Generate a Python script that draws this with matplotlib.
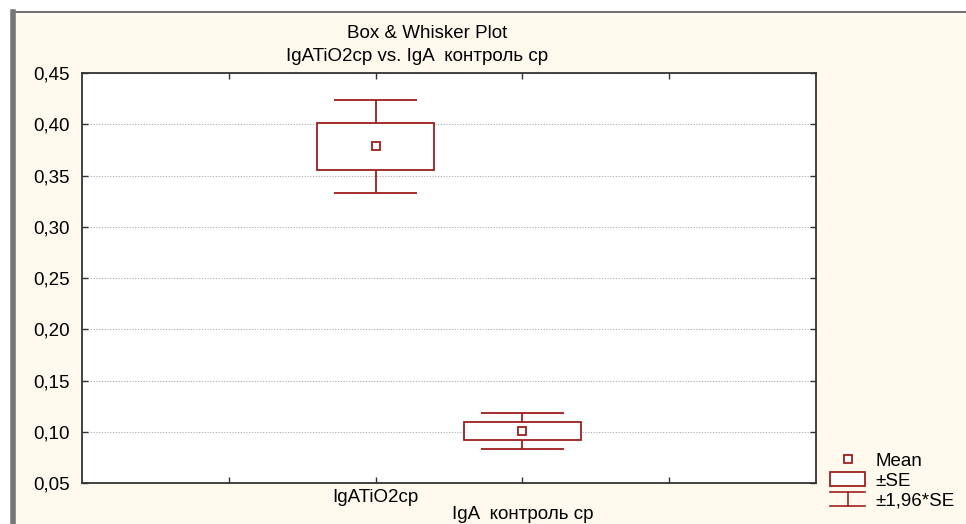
import matplotlib
matplotlib.use("Agg")
import matplotlib.pyplot as plt
import matplotlib.transforms as mtransforms
from matplotlib.patches import Rectangle, Patch
from matplotlib.lines import Line2D
from matplotlib.legend_handler import HandlerBase
from matplotlib.ticker import FuncFormatter

plt.rcParams['font.family'] = ['Liberation Sans', 'DejaVu Sans']
plt.rcParams['font.size'] = 13.5

# group means and standard errors
groups = ["IgATiO2cp", "IgA  контроль ср"]
means = [0.3785, 0.1007]
ses = [0.0232, 0.0088]
positions = [2, 3]

DARK_RED = "#9e1f1f"
CREAM = "#fff9ee"


class WhiskerHandler(HandlerBase):
    def create_artists(self, legend, orig_handle, xdescent, ydescent,
                       width, height, fontsize, trans):
        x0, x1 = -xdescent, -xdescent + width
        xm = (x0 + x1) / 2
        y0, y1 = -ydescent, -ydescent + height
        top = Line2D([x0, x1], [y1, y1], color=DARK_RED, lw=1.2, transform=trans)
        bot = Line2D([x0, x1], [y0, y0], color=DARK_RED, lw=1.2, transform=trans)
        mid = Line2D([xm, xm], [y0, y1], color=DARK_RED, lw=1.2, transform=trans)
        return [top, bot, mid]


fig = plt.figure(figsize=(9.66, 5.24), dpi=100, facecolor="white")

# cream panel with the dark frame on top and left
panel = Rectangle((0.012, -0.01), 1.0, 0.987, transform=fig.transFigure,
                  facecolor=CREAM, edgecolor="none", zorder=-10)
fig.patches.append(panel)
fig.add_artist(Line2D([0.012, 1.0], [0.977, 0.977], color="#555555", lw=1.2,
                      transform=fig.transFigure))
fig.add_artist(Line2D([0.013, 0.013], [0.0, 0.977], color="#777777", lw=4,
                      transform=fig.transFigure))

ax = fig.add_axes([0.0849, 0.0782, 0.7598, 0.7825])
ax.set_facecolor("white")

for x, m, se in zip(positions, means, ses):
    ax.bar(x, 2 * se, bottom=m - se, width=0.8, facecolor="white",
           edgecolor=DARK_RED, linewidth=1.3, zorder=3)
    ax.vlines(x, m + se, m + 1.96 * se, color=DARK_RED, lw=1.3, zorder=3)
    ax.vlines(x, m - 1.96 * se, m - se, color=DARK_RED, lw=1.3, zorder=3)
    ax.hlines([m + 1.96 * se, m - 1.96 * se], x - 0.285, x + 0.285,
              color=DARK_RED, lw=1.3, zorder=3)
    ax.plot(x, m, marker="s", ms=6, mfc="white", mec=DARK_RED, mew=1.3,
            linestyle="none", zorder=4)

ax.set_xlim(0, 5)
ax.set_ylim(0.05, 0.45)
ax.set_yticks([0.05, 0.10, 0.15, 0.20, 0.25, 0.30, 0.35, 0.40, 0.45])
ax.yaxis.set_major_formatter(FuncFormatter(lambda v, p: f"{v:.2f}".replace(".", ",")))
ax.set_xticks([1, 2, 3, 4])
ax.set_xticklabels(["", groups[0], "", ""])
ax.tick_params(axis="both", direction="in", length=4, width=1, labelsize=13.5,
               top=True, right=True, colors="#333333", labelcolor="black")
ax.tick_params(axis="x", pad=4)
ax.tick_params(axis="y", pad=9)
ax.grid(axis="y", color="#aaaaaa", linestyle=(0, (1, 1.5)), linewidth=0.8, zorder=0)
for s in ax.spines.values():
    s.set_color("#333333")
    s.set_linewidth(1.3)

# second category label sits one row lower, at the bottom edge
trans = mtransforms.blended_transform_factory(ax.transData, fig.transFigure)
ax.text(positions[1], 0.002, groups[1], transform=trans, ha="center", va="bottom",
        fontsize=13.5)

fig.text(0.442, 0.936, "Box & Whisker Plot", ha="center", va="center", fontsize=13.5)
fig.text(0.432, 0.892, "IgATiO2cp vs. IgA  контроль ср", ha="center", va="center",
         fontsize=13.5)

handles = [
    Line2D([], [], marker="s", ms=6, mfc="white", mec=DARK_RED, mew=1.3, linestyle="none"),
    Patch(facecolor="white", edgecolor=DARK_RED, linewidth=1.3),
    Line2D([], []),
]
leg = fig.legend(handles, ["Mean", "±SE", "±1,96*SE"], loc="upper left",
                 bbox_to_anchor=(0.846, 0.162), frameon=False, fontsize=13.5,
                 handlelength=1.85, handleheight=0.82, labelspacing=0.1,
                 handletextpad=0.55, borderpad=0.2,
                 handler_map={handles[2]: WhiskerHandler()})

fig.savefig("out.png", dpi=100, facecolor="white")
